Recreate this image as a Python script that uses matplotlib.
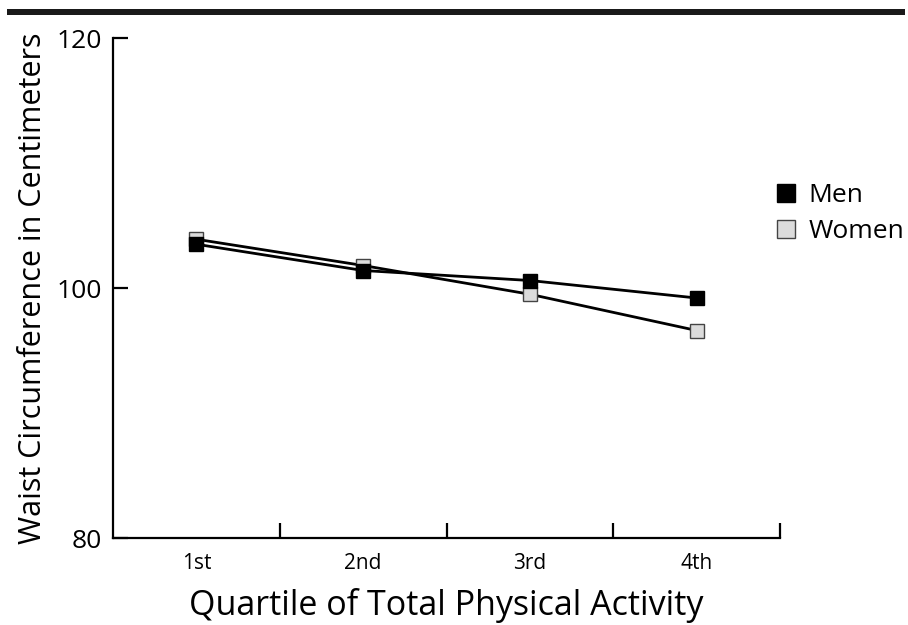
import matplotlib
matplotlib.use("Agg")
import matplotlib.pyplot as plt
from matplotlib.patches import Rectangle
from matplotlib.lines import Line2D

quartiles = ["1st", "2nd", "3rd", "4th"]
men = [103.5, 101.4, 100.6, 99.2]
women = [103.9, 101.8, 99.5, 96.6]
yticks = [80, 100, 120]

plt.rcParams['font.family'] = ['Open Sans', 'DejaVu Sans']

fig = plt.figure(figsize=(9.08, 6.25), dpi=100)
ax = fig.add_axes([113/908, 1-538/625, (780-113)/908, (538-38)/625])

xpos = [i + 0.5 for i in range(len(quartiles))]
ax.plot(xpos, women, color='black', lw=2.0, marker='s', ms=10,
        mfc='#dcdcdc', mec='#444444', mew=1.0, zorder=3)
ax.plot(xpos, men, color='black', lw=2.0, marker='s', ms=10,
        mfc='black', mec='black', mew=1.0, zorder=4)

ax.set_xlim(0, 4)
ax.set_ylim(80, 120)
ax.spines['top'].set_visible(False)
ax.spines['right'].set_visible(False)
for s in ['left', 'bottom']:
    ax.spines[s].set_linewidth(1.6)

ax.set_yticks(yticks)
ax.set_yticklabels([str(v) for v in yticks], fontsize=19)
ax.tick_params(axis='y', direction='in', length=11, width=1.6, pad=8)

ax.set_xticks([1, 2, 3, 4])
ax.set_xticklabels([])
ax.tick_params(axis='x', which='major', direction='in', length=11, width=1.6)
ax.set_xticks(xpos, minor=True)
ax.set_xticklabels(quartiles, minor=True, fontsize=15)
ax.tick_params(axis='x', which='minor', length=0, pad=11)

ax.set_xlabel("Quartile of Total Physical Activity", fontsize=24.5, labelpad=10)
ax.set_ylabel("Waist Circumference in Centimeters", fontsize=22, labelpad=6)

fig.add_artist(Rectangle((7/908, 1-15/625), (905-7)/908, 6/625,
                         transform=fig.transFigure, color='#1a1a1a', lw=0))

handles = [Line2D([], [], ls='none', marker='s', ms=13, mfc='black', mec='black'),
           Line2D([], [], ls='none', marker='s', ms=13, mfc='#dcdcdc', mec='#444444')]
fig.legend(handles, ["Men", "Women"], loc='upper left',
           bbox_to_anchor=(773/908, 1-183/625), frameon=False, fontsize=19,
           handletextpad=0.35, labelspacing=0.42, handlelength=1.0, borderaxespad=0,
           borderpad=0)

fig.savefig("out.png", dpi=100)
